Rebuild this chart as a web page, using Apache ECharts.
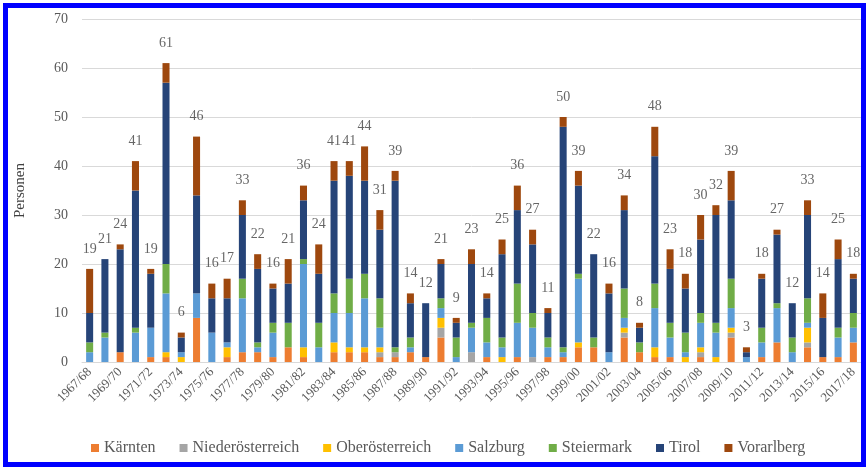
<!DOCTYPE html>
<html>
<head>
<meta charset="utf-8">
<script src="https://cdn.jsdelivr.net/npm/echarts@6/dist/echarts.min.js"></script>
<style>
html,body{margin:0;padding:0;background:#fff;}
#c{position:absolute;left:0;top:0;width:867px;height:467px;}
#frame{position:absolute;left:3px;top:3px;width:853px;height:454px;border:5px solid #0000ff;pointer-events:none;}
</style>
</head>
<body>
<div id="c"></div>
<div id="frame"></div>
<script>
const seasons = [];
for (let y = 1967; y <= 2017; y++) {
  seasons.push(y + '/' + String((y + 1) % 100).padStart(2, '0'));
}
const kaernten        = [0,0,2,0,1,1,0,9,0,1,2,2,1,3,1,0,2,2,2,1,1,2,1,5,0,0,1,0,1,0,1,1,3,3,0,5,2,1,1,0,1,0,5,0,1,4,0,3,1,1,4];
const niederoesterr   = [0,0,0,0,0,0,0,0,0,0,0,0,0,0,0,0,0,0,0,1,1,0,0,2,0,2,0,0,0,1,0,0,0,0,0,1,0,0,0,0,1,0,1,0,0,0,0,1,0,0,0];
const oberoesterr     = [0,0,0,0,0,1,1,0,0,2,0,0,0,0,2,0,2,1,1,1,0,0,0,2,0,0,0,1,0,0,0,0,1,0,0,1,0,2,0,1,1,1,1,0,0,0,0,3,0,0,0];
const salzburg        = [2,5,0,6,6,12,1,5,6,1,11,1,5,0,17,3,6,7,10,4,0,1,0,2,1,5,3,2,7,6,2,1,13,0,2,2,0,8,4,1,5,5,4,1,3,7,2,1,0,4,3];
const steiermark      = [2,1,0,1,0,6,0,0,0,0,4,1,2,5,1,5,4,7,5,6,1,2,0,2,4,1,5,2,8,3,2,1,1,2,0,6,2,5,3,4,2,2,6,0,3,1,3,5,0,2,3];
const tirol           = [6,15,21,28,11,37,3,20,7,9,13,15,7,8,12,10,23,21,19,14,34,7,11,7,3,12,4,17,15,14,5,45,18,17,12,16,3,26,11,9,15,22,16,1,10,14,7,17,8,14,7];
const vorarlberg      = [9,0,1,6,1,4,1,12,3,4,3,3,1,5,3,6,4,3,7,4,2,2,0,1,1,3,1,3,5,3,1,2,3,0,2,3,1,6,4,3,5,2,6,1,1,1,0,3,5,4,1];
const regionNames = ['Kärnten','Niederösterreich','Oberösterreich','Salzburg','Steiermark','Tirol','Vorarlberg'];
const regionData = [kaernten, niederoesterr, oberoesterr, salzburg, steiermark, tirol, vorarlberg];
const colors = ['#ED7D31','#A5A5A5','#FFC000','#5B9BD5','#70AD47','#264478','#9E480E'];
const yTicks = [0,10,20,30,40,50,60,70];

const totals = seasons.map((_, i) => regionData.reduce((s, arr) => s + arr[i], 0));
const font = 'Liberation Serif';

const series = regionNames.map((name, k) => ({
  name: name,
  type: 'bar',
  stack: 'total',
  barWidth: '46%',
  itemStyle: { color: colors[k] },
  data: regionData[k]
}));
series.push({
  name: 'Summe',
  type: 'scatter',
  data: totals,
  symbol: 'rect',
  symbolSize: 2,
  silent: true,
  itemStyle: { color: 'rgba(0,0,0,0)' },
  labelLayout: { hideOverlap: false },
  label: {
    show: true, position: 'top', distance: 12,
    fontFamily: font, fontSize: 14, color: '#404040'
  },
  z: 10
});

const chart = echarts.init(document.getElementById('c'));
chart.setOption({
  animation: false,
  backgroundColor: '#fff',
  grid: { left: 82, right: 6, top: 19, bottom: 105 },
  legend: {
    data: regionNames,
    bottom: 6,
    left: 86,
    itemWidth: 8, itemHeight: 8, itemGap: 24,
    icon: 'rect',
    textStyle: { fontFamily: font, fontSize: 16, color: '#595959' }
  },
  xAxis: {
    type: 'category',
    data: seasons,
    axisLine: { lineStyle: { color: '#D9D9D9' } },
    axisTick: { show: false },
    axisLabel: {
      interval: 1, rotate: 45, margin: 8,
      fontFamily: font, fontSize: 13, color: '#595959'
    }
  },
  yAxis: {
    type: 'value',
    min: yTicks[0], max: yTicks[yTicks.length - 1], interval: 10,
    name: 'Personen',
    nameLocation: 'middle',
    nameGap: 54,
    nameTextStyle: { fontFamily: font, fontSize: 15, color: '#404040' },
    axisLine: { show: false },
    axisTick: { show: false },
    axisLabel: { fontFamily: font, fontSize: 14, color: '#595959', margin: 14 },
    splitLine: { lineStyle: { color: '#D9D9D9' } }
  },
  series: series
});
</script>
</body>
</html>
